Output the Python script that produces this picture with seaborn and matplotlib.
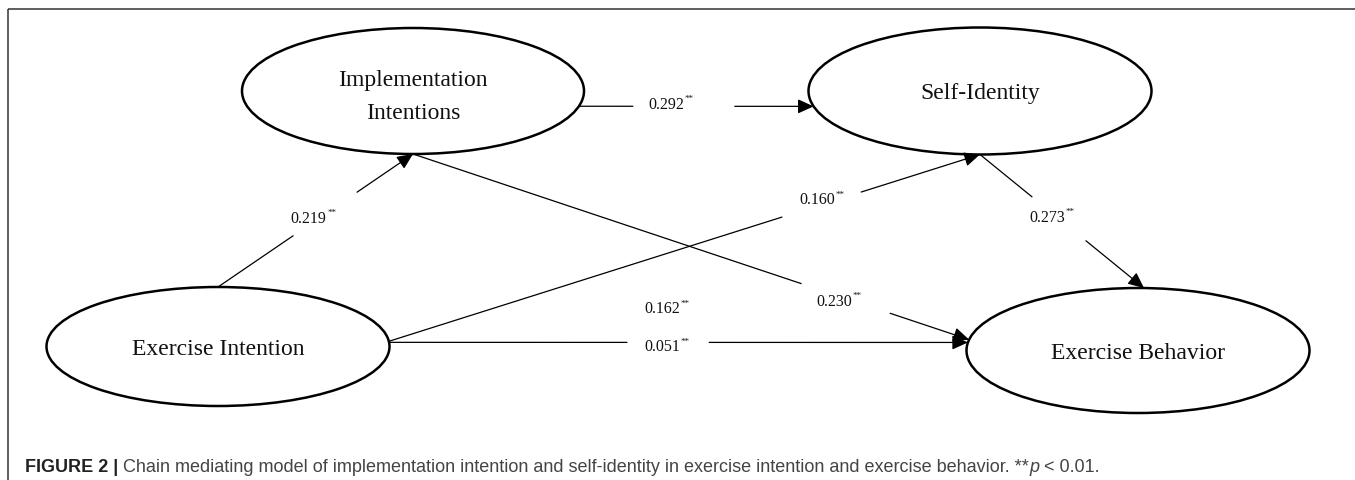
import numpy as np
import matplotlib
matplotlib.use("Agg")
import matplotlib.pyplot as plt
from matplotlib.patches import Ellipse
import seaborn as sns

# constructs of the chain mediating model
node_keys = ["EI", "II", "SI", "EB"]
node_labels = ["Exercise Intention", "Implementation\nIntentions", "Self-Identity", "Exercise Behavior"]

# standardized path coefficients (source -> target), all p < 0.01
path_src = ["EI", "II", "EI", "II", "SI", "EI"]
path_dst = ["II", "SI", "SI", "EB", "EB", "EB"]
path_coef = [0.219, 0.292, 0.160, 0.230, 0.273, 0.051]
total_effect = 0.162
sig_mark = "**"

caption_bold = "FIGURE 2 | "
caption_text = ("Chain mediating model of implementation intention and self-identity "
                "in exercise intention and exercise behavior. **")
caption_p = "p"
caption_end = " < 0.01."

# ---- layout (pixel space) ----
W, H = 1355, 481
node_pos = {"EI": (218, 347.5), "II": (413, 92), "SI": (980, 92), "EB": (1138, 351.5)}
node_size = {"EI": (343, 119), "II": (342, 126), "SI": (343, 127), "EB": (343, 125)}
text_dy = {"EI": 2, "II": 5, "SI": 2, "EB": 2}
# port angle on source, port angle on target, gap start, gap end, label t, label dy
edge_layout = [
    (270, 90, 0.385, 0.713, 0.49, -4),
    (14, 166, 0.230, 0.664, 0.392, -2),
    (355, 90, 0.665, 0.799, 0.733, -5),
    (90, 190, 0.698, 0.858, 0.766, 5),
    (90, 272, 0.317, 0.646, 0.44, 4),
    (356, 187.4, 0.411, 0.553, 0.48, 4),
]


def port(key, deg):
    cx, cy = node_pos[key]
    a, b = node_size[key][0] / 2, node_size[key][1] / 2
    th = np.deg2rad(deg)
    return np.array([cx + a * np.cos(th), cy + b * np.sin(th)])


def coef_label(ax, x, y, value):
    t = ax.text(x - 5, y, f"{value:.3f}", ha="center", va="center",
                fontsize=11.5, family="Liberation Serif", color="#111111")
    ax.annotate(sig_mark, xy=(1, 0.62), xycoords=t, xytext=(0.5, 0),
                textcoords="offset points", ha="left", va="bottom",
                fontsize=6.5, family="Liberation Serif", color="#111111")
    return t


sns.set_theme(style="white")
plt.rcParams["font.family"] = ["Liberation Sans", "DejaVu Sans"]

fig = plt.figure(figsize=(W / 100, H / 100), dpi=100)
ax = fig.add_axes([0, 0, 1, 1])
ax.set_xlim(0, W)
ax.set_ylim(H, 0)
ax.axis("off")

# frame (top and left rules)
ax.plot([7.5, W], [9.5, 9.5], color="#333333", lw=1.1, solid_capstyle="butt")
ax.plot([7.5, 7.5], [9.5, H], color="#333333", lw=1.1, solid_capstyle="butt")

# construct ellipses
for key, label in zip(node_keys, node_labels):
    cx, cy = node_pos[key]
    w, h = node_size[key]
    ax.add_patch(Ellipse((cx, cy), w, h, facecolor="white", edgecolor="black", lw=1.8, zorder=2))
    ax.text(cx, cy + text_dy[key], label, ha="center", va="center", fontsize=17,
            family="Liberation Serif", color="#111111", linespacing=1.75, zorder=3)

# paths with coefficients
for src, dst, coef, lay in zip(path_src, path_dst, path_coef, edge_layout):
    a_src, a_dst, t0, t1, tl, dy = lay
    S, E = port(src, a_src), port(dst, a_dst)
    g0 = S + t0 * (E - S)
    g1 = S + t1 * (E - S)
    ax.plot([S[0], g0[0]], [S[1], g0[1]], color="black", lw=0.9, zorder=1)
    ax.annotate("", xy=E, xytext=g1,
                arrowprops=dict(arrowstyle="-|>,head_length=0.44,head_width=0.2",
                                mutation_scale=22, lw=0.9,
                                color="black", shrinkA=0, shrinkB=0), zorder=4)
    L = S + tl * (E - S)
    coef_label(ax, L[0], L[1] + dy, coef)
    if coef == 0.051:
        coef_label(ax, L[0], L[1] + dy - 38, total_effect)

# caption
c1 = ax.text(25, 472.5, caption_bold, ha="left", va="baseline", fontsize=13,
             fontweight="bold", color="#222222")
c2 = ax.annotate(caption_text, xy=(1, 0), xycoords=c1, va="bottom", ha="left",
                 fontsize=13, color="#444444")
c3 = ax.annotate(caption_p, xy=(1, 0), xycoords=c2, va="bottom", ha="left",
                 fontsize=13, style="italic", color="#444444")
c4 = ax.annotate(caption_end, xy=(1, 0), xycoords=c3, va="bottom", ha="left",
                 fontsize=13, color="#444444")
fig.canvas.draw()
r = fig.canvas.get_renderer()
x_left = c1.get_window_extent(r).x0
x_right = c4.get_window_extent(r).x1
scale = (1100 - 25) / (x_right - x_left)
for c in (c1, c2, c3, c4):
    c.set_fontsize(13 * scale)

fig.savefig("out.png", dpi=100, facecolor="white")
